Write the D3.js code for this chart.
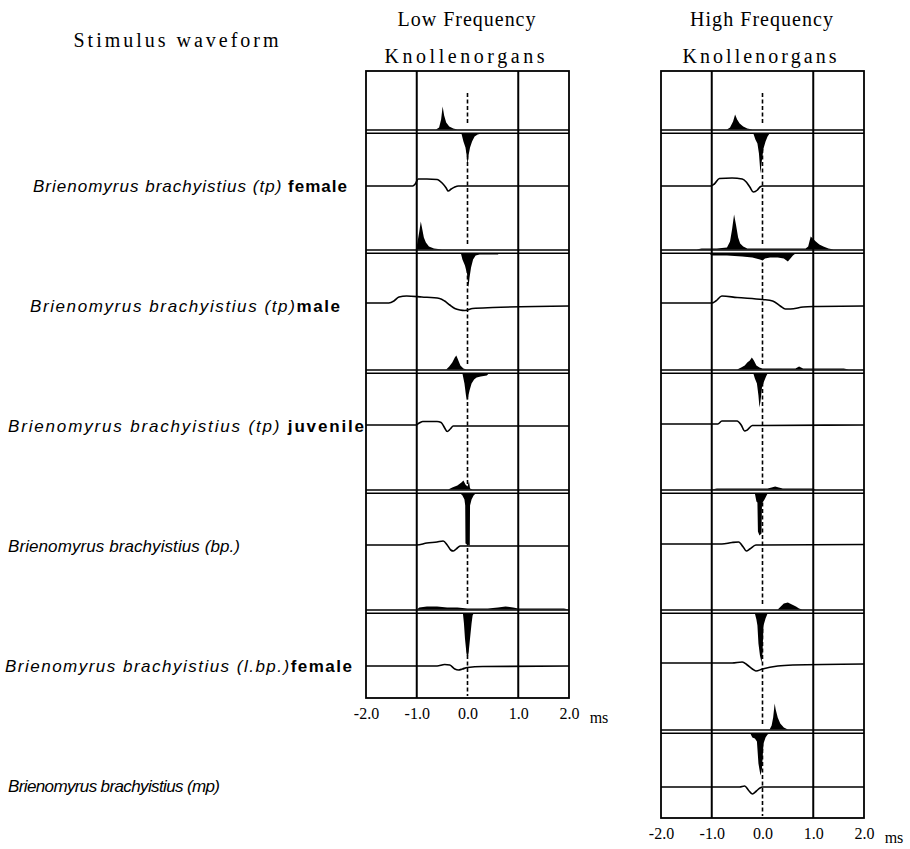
<!DOCTYPE html>
<html><head><meta charset="utf-8">
<script src="https://cdn.jsdelivr.net/npm/d3@7/dist/d3.min.js"></script>
<style>body{margin:0;background:#fff}</style>
</head><body>
<svg id="chart" width="910" height="849"></svg>
<script>
// ---------------- DATA ----------------
const tickValues = [-2, -1, 0, 1, 2];
const tickLabels = ["-2.0", "-1.0", "0.0", "1.0", "2.0"];
const timeUnit = "ms";
const leftTitle = "Stimulus waveform";
const columnTitles = [["Low Frequency", "Knollenorgans"], ["High Frequency", "Knollenorgans"]];
const speciesItalic = [
  "Brienomyrus brachyistius (tp)",
  "Brienomyrus brachyistius (tp)",
  "Brienomyrus brachyistius (tp)",
  "Brienomyrus brachyistius (bp.)",
  "Brienomyrus brachyistius (l.bp.)",
  "Brienomyrus brachyistius (mp)"
];
const speciesSuffix = [" female", "male", " juvenile", "", "female", ""];

// Stimulus waveforms [time ms, relative amplitude]
const lowWave = [
  [[-2,0],[-1.08,0],[-1.03,2],[-0.97,7],[-0.8,7],[-0.6,6.5],[-0.5,3],[-0.42,-2],[-0.38,-5],[-0.32,-3],[-0.25,-1],[-0.18,0],[2,0]],
  [[-2,3],[-1.55,3],[-1.45,5],[-1.35,9],[-1.2,10],[-0.9,9],[-0.55,7.5],[-0.45,5],[-0.35,1],[-0.25,-2.5],[-0.15,-4],[-0.05,-4.5],[0.1,-2.5],[0.5,-1.5],[2,0]],
  [[-2,1],[-1.02,1],[-0.95,3],[-0.88,4.5],[-0.6,4.5],[-0.52,3.5],[-0.45,-2],[-0.4,-5.5],[-0.34,-3],[-0.28,0],[2,0]],
  [[-2,1],[-1.0,1],[-0.8,3],[-0.6,4],[-0.48,5],[-0.4,1],[-0.33,-4],[-0.28,-5],[-0.2,-2],[-0.14,0],[2,0]],
  [[-2,0],[-0.6,0],[-0.45,1.5],[-0.35,1],[-0.25,-3],[-0.18,-4],[-0.1,-3],[0.0,-1.5],[0.3,-0.5],[2,0]]
];
const highWave = [
  [[-2,0],[-1.02,0],[-0.95,2],[-0.85,7.5],[-0.6,8],[-0.4,7],[-0.32,4],[-0.25,-1],[-0.18,-6],[-0.1,-4],[-0.05,-1],[0,0],[2,0]],
  [[-2,3],[-1.0,3],[-0.92,5],[-0.8,10],[-0.5,8.5],[0.0,6.5],[0.2,5],[0.35,0],[0.45,-3],[0.55,-3],[0.8,-1],[1.0,-0.5],[2,0]],
  [[-2,2],[-0.88,2],[-0.8,5],[-0.5,5],[-0.42,1],[-0.35,-5],[-0.3,-4],[-0.2,0.5],[2,1]],
  [[-2,2],[-0.8,2],[-0.6,3.5],[-0.47,4],[-0.38,-1],[-0.32,-5],[-0.25,-3],[-0.13,1],[2,1.5]],
  [[-2,3],[-0.6,3],[-0.4,4],[-0.3,1],[-0.2,-3],[-0.13,-5],[0.0,-3],[0.3,0],[0.6,1],[2,2]],
  [[-2,-1],[-0.45,-1],[-0.35,0],[-0.28,-4],[-0.2,-8],[-0.12,-5],[-0.05,-2],[0.0,-1],[2,-1]]
];

// Response histograms [time ms, count]; "Up" above the separator, "Down" below
const lowUp = [
  [[-0.62,0],[-0.56,2],[-0.52,10],[-0.49,23],[-0.46,14],[-0.42,7],[-0.36,3],[-0.28,1],[-0.2,0]],
  [[-1.02,0],[-0.99,6],[-0.95,18],[-0.92,28],[-0.89,20],[-0.86,12],[-0.82,7],[-0.76,3],[-0.66,1],[-0.5,0]],
  [[-0.42,0],[-0.36,3],[-0.3,7],[-0.25,12],[-0.22,14],[-0.18,9],[-0.14,4],[-0.08,1],[-0.02,0]],
  [[-0.38,0],[-0.3,2],[-0.2,4],[-0.12,7],[-0.08,9],[-0.04,5],[0.0,3],[0.03,8],[0.05,1],[0.1,0]],
  [[-1.0,0],[-0.95,2],[-0.8,3],[-0.6,3],[-0.4,2],[-0.2,2],[0.0,1],[0.2,1],[0.4,1],[0.6,2],[0.75,3],[0.9,2],[1.0,1],[1.5,1],[1.9,1],[2,0]]
];
const lowDown = [
  [[-0.12,0],[-0.08,8],[-0.04,14],[-0.01,24],[0.0,33],[0.02,22],[0.05,14],[0.09,8],[0.14,3],[0.2,1],[0.28,0]],
  [[-0.13,0],[-0.1,6],[-0.05,12],[-0.01,20],[0.02,34],[0.04,24],[0.07,14],[0.11,6],[0.16,2],[0.24,1],[0.6,1],[0.62,0]],
  [[-0.1,0],[-0.06,10],[-0.03,22],[-0.01,27],[0.01,24],[0.04,17],[0.08,10],[0.13,6],[0.18,4],[0.26,3],[0.38,2],[0.42,0]],
  [[-0.14,0],[-0.1,2],[-0.06,6],[-0.045,12],[-0.04,50],[0.045,52],[0.05,12],[0.08,6],[0.12,2],[0.16,0]],
  [[-0.09,0],[-0.07,10],[-0.05,25],[-0.02,40],[0.0,45],[0.02,40],[0.05,25],[0.08,10],[0.1,2],[0.12,0]]
];
const highUp = [
  [[-0.7,0],[-0.64,2],[-0.58,8],[-0.54,15],[-0.5,10],[-0.45,6],[-0.38,3],[-0.3,1],[-0.2,0]],
  [[-1.3,0],[-1.2,1],[-0.9,1],[-0.7,2],[-0.64,8],[-0.6,20],[-0.56,35],[-0.52,24],[-0.48,12],[-0.44,6],[-0.38,3],[-0.3,1],[0.85,1],[0.9,3],[0.95,13],[0.99,11],[1.05,8],[1.12,5],[1.2,3],[1.3,1],[1.4,0]],
  [[-0.5,0],[-0.42,2],[-0.35,4],[-0.3,7],[-0.25,9],[-0.21,12],[-0.17,9],[-0.12,4],[-0.06,2],[0.0,1],[0.65,1],[0.72,3],[0.8,1],[1.2,1],[1.6,1],[1.7,0]],
  [[-1.0,0],[-0.9,1],[0.1,1],[0.18,2],[0.25,3],[0.32,2],[0.4,1],[1.0,1],[1.05,0]],
  [[0.3,0],[0.36,3],[0.42,6],[0.5,7],[0.58,5],[0.66,3],[0.72,1],[0.78,0]],
  [[0.14,0],[0.18,4],[0.21,12],[0.24,26],[0.26,20],[0.3,12],[0.35,6],[0.42,2],[0.5,0]]
];
const highDown = [
  [[-0.18,0],[-0.14,6],[-0.1,10],[-0.07,20],[-0.04,40],[-0.02,30],[0.02,15],[0.06,8],[0.1,3],[0.14,0]],
  [[-1.05,0],[-1.0,2],[-0.7,2],[-0.4,3],[-0.2,4],[-0.05,6],[0.0,7],[0.05,5],[0.15,4],[0.3,4],[0.42,5],[0.5,8],[0.55,5],[0.6,2],[0.65,0]],
  [[-0.18,0],[-0.15,5],[-0.11,10],[-0.08,22],[-0.06,34],[-0.04,28],[-0.01,14],[0.03,8],[0.07,3],[0.1,0]],
  [[-0.15,0],[-0.12,8],[-0.1,9],[-0.09,38],[-0.06,42],[-0.02,40],[-0.01,10],[0.04,6],[0.08,2],[0.1,0]],
  [[-0.15,0],[-0.12,6],[-0.1,12],[-0.08,30],[-0.05,42],[-0.02,49],[0.0,40],[0.02,12],[0.06,5],[0.1,0]],
  [[-0.24,0],[-0.2,4],[-0.15,5],[-0.11,8],[-0.08,30],[-0.04,42],[-0.01,35],[0.02,10],[0.06,4],[0.1,1],[0.14,0]]
];

// ---------------- LAYOUT ----------------
const svg = d3.select("#chart");
const TOP = 71, ROW0 = 130, ROWH = 120, WAVE0 = 186;
const serif = "'Liberation Serif','DejaVu Serif',serif";
const sans = "'Liberation Sans',Arial,sans-serif";

const columns = [
  {x: d3.scaleLinear().domain([-2, 2]).range([366, 569]), wave: lowWave, up: lowUp, down: lowDown, bottom: 698,
   titles: columnTitles[0], titleLen: [138, 160]},
  {x: d3.scaleLinear().domain([-2, 2]).range([661, 864]), wave: highWave, up: highUp, down: highDown, bottom: 818,
   titles: columnTitles[1], titleLen: [143, 154]}
];
const hScale = d3.scaleLinear().domain([0, 50]).range([0, 50]);
const wScale = d3.scaleLinear().domain([-10, 10]).range([-10, 10]);

// titles
svg.append("text").attr("x", 176).attr("y", 47).attr("text-anchor", "middle")
  .attr("font-family", serif).attr("font-size", 20).attr("textLength", 205).attr("lengthAdjust", "spacing")
  .text(leftTitle);

columns.forEach(col => {
  const x = col.x;
  const [x0, x1] = x.range();
  const cx = (x0 + x1) / 2;
  const g = svg.append("g");
  const nRows = col.wave.length;

  g.append("text").attr("x", cx - 1).attr("y", 26).attr("text-anchor", "middle")
    .attr("font-family", serif).attr("font-size", 20).attr("textLength", col.titleLen[0]).attr("lengthAdjust", "spacing")
    .text(col.titles[0]);
  g.append("text").attr("x", cx - 3).attr("y", 63).attr("text-anchor", "middle")
    .attr("font-family", serif).attr("font-size", 20).attr("textLength", col.titleLen[1]).attr("lengthAdjust", "spacing")
    .text(col.titles[1]);

  // outer box
  g.append("rect").attr("x", x0).attr("y", TOP).attr("width", x1 - x0).attr("height", col.bottom - TOP)
    .attr("fill", "none").attr("stroke", "#000").attr("stroke-width", 1.8);
  // solid grid at -1 and 1
  [-1, 1].forEach(t => {
    g.append("line").attr("x1", x(t)).attr("x2", x(t)).attr("y1", TOP).attr("y2", col.bottom)
      .attr("stroke", "#000").attr("stroke-width", 2);
  });
  // dashed line at 0 in each cell
  const cellEdges = [TOP];
  for (let i = 0; i < nRows; i++) cellEdges.push(ROW0 + ROWH * i);
  cellEdges.push(col.bottom);
  for (let i = 0; i < cellEdges.length - 1; i++) {
    const a = cellEdges[i] + (i === 0 ? 22 : 6), b = cellEdges[i + 1] - (i === cellEdges.length - 2 ? 2 : 6);
    g.append("line").attr("x1", x(0)).attr("x2", x(0)).attr("y1", a).attr("y2", b)
      .attr("stroke", "#000").attr("stroke-width", 1.6).attr("stroke-dasharray", "4,2.5");
  }

  // waveforms
  const line = d3.line().x(d => x(d[0])).curve(d3.curveMonotoneX);
  col.wave.forEach((w, i) => {
    const base = WAVE0 + ROWH * i;
    g.append("path").datum(w).attr("d", line.y(d => base - wScale(d[1])))
      .attr("fill", "none").attr("stroke", "#000").attr("stroke-width", 1.6);
  });

  // histograms
  col.up.forEach((h, i) => {
    const base = ROW0 + ROWH * i - 0.5;
    const area = d3.area().x(d => x(d[0])).y0(base).y1(d => base - hScale(d[1]));
    g.append("path").datum(h).attr("d", area).attr("fill", "#000");
  });
  col.down.forEach((h, i) => {
    const base = ROW0 + ROWH * i + 3.5;
    const area = d3.area().x(d => x(d[0])).y0(base).y1(d => base + hScale(d[1]));
    g.append("path").datum(h).attr("d", area).attr("fill", "#000");
  });

  // double separator lines
  for (let i = 0; i < nRows; i++) {
    [0, 3.2].forEach(off => {
      g.append("line").attr("x1", x0).attr("x2", x1)
        .attr("y1", ROW0 + ROWH * i + off).attr("y2", ROW0 + ROWH * i + off)
        .attr("stroke", "#000").attr("stroke-width", 1.4);
    });
  }

  // axis
  const axis = d3.axisBottom(x).tickValues(tickValues).tickFormat((d, i) => tickLabels[i]).tickSize(0).tickPadding(10);
  const ax = g.append("g").attr("transform", `translate(0,${col.bottom})`).call(axis);
  ax.select(".domain").remove();
  ax.selectAll("text").attr("font-family", serif).attr("font-size", 16).attr("fill", "#000");
  g.append("text").attr("x", x1 + 30).attr("y", col.bottom + 25).attr("text-anchor", "middle")
    .attr("font-family", serif).attr("font-size", 16).text(timeUnit);
});

// species labels
const labelX = [33, 30, 8, 8, 5, 8];
const labelLen = [314, 310, 356, 232, 347, 212];
speciesItalic.forEach((s, i) => {
  const t = svg.append("text").attr("x", labelX[i]).attr("y", WAVE0 + ROWH * i + 6)
    .attr("font-family", sans).attr("font-size", 17)
    .attr("textLength", labelLen[i]).attr("lengthAdjust", "spacing");
  t.append("tspan").attr("font-style", "italic").text(s);
  if (speciesSuffix[i]) t.append("tspan").attr("font-weight", "bold").text(speciesSuffix[i]);
});
</script>
</body></html>
